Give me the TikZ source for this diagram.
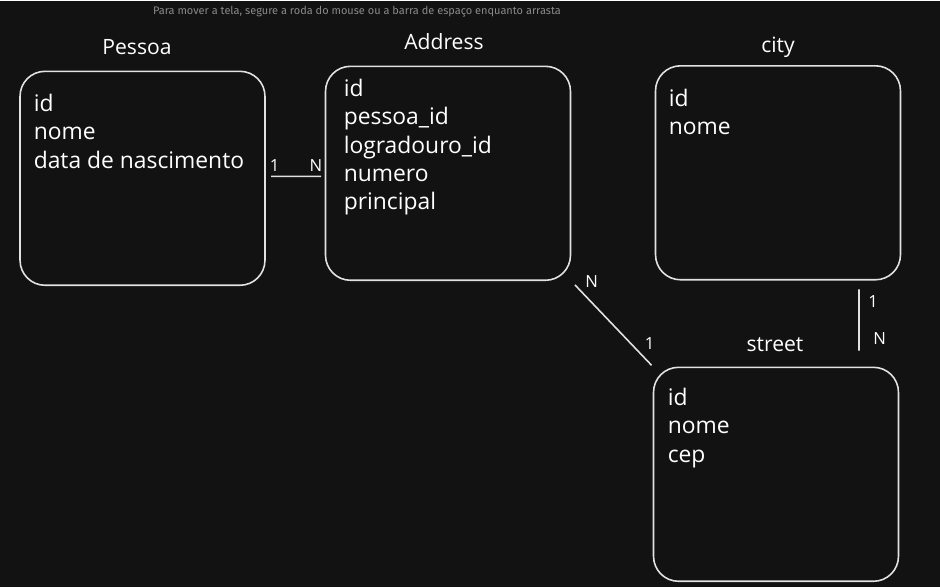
\documentclass[tikz,border=0pt]{standalone}
\usepackage{fontspec}
\setmainfont{Open Sans}
\newfontfamily\hintfont{Fira Sans}
\definecolor{canvas}{HTML}{121212}
\definecolor{sketch}{HTML}{E2E2E2}
\definecolor{hintgray}{HTML}{8A8A8A}

\begin{document}
\begin{tikzpicture}[x=0.02cm,y=-0.02cm,line width=0.9pt,
  table node/.style={draw=sketch,rounded corners=0.5cm,minimum width=4.9cm,minimum height=4.28cm},
  title node/.style={text=white,font=\fontsize{12}{14}\selectfont,anchor=base},
  fields/.style={text=white,anchor=north west,inner sep=0pt,align=left,font=\fontsize{13}{16.1}\selectfont},
  card/.style={text=white,font=\fontsize{9.5}{11}\selectfont,inner sep=2pt},
  every edge/.style={draw=sketch}]

  \fill[canvas] (0,0) rectangle (940,586);
  \node[text=hintgray,font=\hintfont\fontsize{6.25}{7.5}\selectfont] (hint) at (357,10) {Para mover a tela, segure a roda do mouse ou a barra de espaço enquanto arrasta};

  \node[table node] (pessoa) at (142.5,177) {};
  \node[table node] (address) at (448,172) {};
  \node[table node] (city) at (778,171.5) {};
  \node[table node] (street) at (776,473) {};

  \node[title node] (tpessoa) at (137,53) {Pessoa};
  \node[title node] (taddress) at (444,48) {Address};
  \node[title node] (tcity) at (778,51) {city};
  \node[title node] (tstreet) at (775,350) {street};

  \node[fields] (fpessoa) at (33,92) {id\\nome\\data de nascimento};
  \node[fields] (faddress) at (343,77) {id\\pessoa\_id\\logradouro\_id\\numero\\principal};
  \node[fields] (fcity) at (668,87) {id\\nome};
  \node[fields] (fstreet) at (667,386) {id\\nome\\cep};

  \path[shorten <=3pt,shorten >=2pt]
    ([yshift=0.04cm]pessoa.east) edge node[card,pos=0.15,above] (c1) {1}
      node[card,pos=0.85,above] (cn) {N} ([yshift=-0.06cm]address.west);
  \path[shorten <=3pt,shorten >=1pt]
    (address.south east) edge node[card,pos=0.12,above right] (an) {N}
      node[card,pos=0.85,above right] (s1) {1} (street.north west);
  \path[shorten <=5pt,shorten >=9pt]
    ([xshift=1.62cm]city.south) edge node[card,pos=0.24,right,xshift=0.1cm] (k1) {1}
      node[card,pos=0.68,right,xshift=0.2cm] (kn) {N} ([xshift=1.66cm]street.north);

\end{tikzpicture}
\end{document}
